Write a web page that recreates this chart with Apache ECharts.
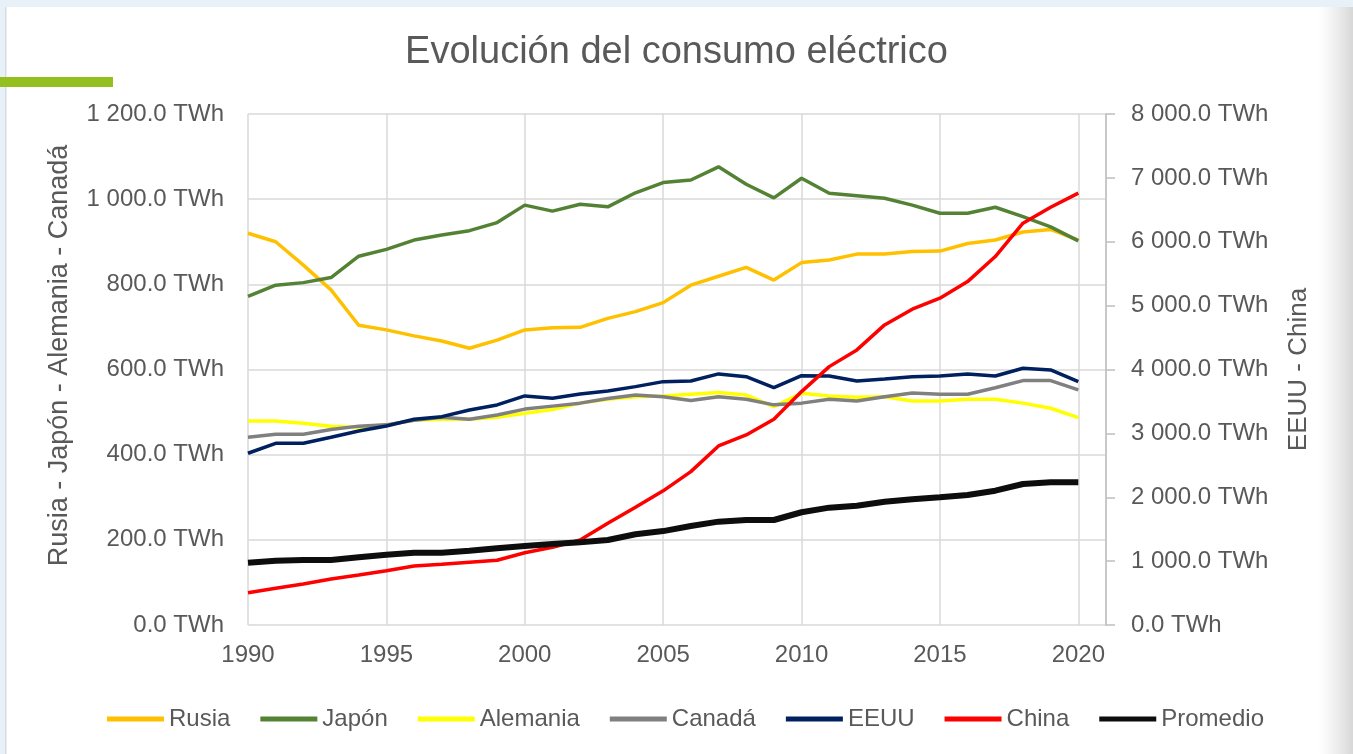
<!DOCTYPE html>
<html>
<head>
<meta charset="utf-8">
<script src="https://cdn.jsdelivr.net/npm/echarts@6/dist/echarts.min.js"></script>
<style>
html,body{margin:0;padding:0;background:#fff;}
#chart{width:1353px;height:754px;}
</style>
</head>
<body>
<div id="chart"></div>
<script>
var years = [1990,1991,1992,1993,1994,1995,1996,1997,1998,1999,2000,2001,2002,2003,2004,2005,2006,2007,2008,2009,2010,2011,2012,2013,2014,2015,2016,2017,2018,2019,2020];
var rusia    = [920,900,845,787,704,693,679,667,650,669,693,698,699,720,736,757,798,819,840,810,851,857,871,871,877,878,896,904,923,929,904];
var japon    = [772,798,804,816,866,882,904,916,926,945,986,972,988,982,1015,1039,1045,1076,1035,1003,1049,1014,1008,1002,986,967,967,981,959,935,902];
var alemania = [479,479,474,467,464,470,481,483,483,488,497,506,521,530,536,538,542,546,540,513,544,538,535,536,526,526,530,530,521,509,487];
var canada   = [441,448,448,459,467,470,481,488,483,493,507,514,521,532,540,536,527,536,530,517,521,530,526,536,545,542,542,557,574,574,552];
var eeuu     = [2689,2845,2845,2940,3038,3116,3221,3262,3367,3445,3586,3550,3617,3664,3732,3810,3821,3931,3888,3716,3904,3899,3821,3852,3888,3899,3931,3899,4020,3993,3810];
var china    = [506,575,642,720,783,850,924,950,982,1013,1132,1216,1331,1592,1843,2100,2401,2803,2975,3221,3654,4045,4307,4698,4944,5116,5376,5768,6290,6541,6761];
var promedio = [976,1007,1018,1018,1060,1101,1132,1132,1164,1201,1237,1268,1295,1331,1420,1470,1550,1618,1644,1644,1765,1837,1868,1931,1968,2000,2036,2103,2208,2235,2235];

var seriesNames = ['Rusia','Japón','Alemania','Canadá','EEUU','China','Promedio'];
var seriesColors = ['#FFC000','#548235','#FFFF00','#808080','#002060','#FF0000','#0D0D0D'];
var titleText = 'Evolución del consumo eléctrico';
var leftAxisName = 'Rusia - Japón - Alemania - Canadá';
var rightAxisName = 'EEUU - China';

function pairs(vals){ return years.map(function(y,i){ return [y, vals[i]]; }); }
function fmtTWh(v){
  var s = v.toFixed(1).split('.');
  s[0] = s[0].replace(/\B(?=(\d{3})+$)/g, ' ');
  return s.join('.') + ' TWh';
}
var FONT = 'Liberation Sans, Arial, sans-serif';
var TXT = '#595959';

function line(name, vals, color, width, axis){
  return {
    name: name, type: 'line', yAxisIndex: axis, data: pairs(vals),
    symbol: 'none', showSymbol: false, smooth: false,
    lineStyle: {color: color, width: width}, itemStyle: {color: color},
    emphasis: {disabled: true}
  };
}

var legendData = seriesNames.map(function(n, i){
  return {
    name: n,
    icon: 'path://M0,0H100V10H0Z',
    itemStyle: {color: seriesColors[i], opacity: 1}
  };
});

var chart = echarts.init(document.getElementById('chart'));
chart.setOption({
  animation: false,
  backgroundColor: '#ffffff',
  textStyle: {fontFamily: FONT},
  title: {
    text: titleText, left: 'center', top: 29,
    textStyle: {color: TXT, fontSize: 38, fontWeight: 'normal', fontFamily: FONT}
  },
  graphic: [
    {type: 'rect', shape: {x: 0, y: 0, width: 1353, height: 7}, style: {fill: '#E8F0F8'}, silent: true},
    {type: 'rect', shape: {x: 0, y: 0, width: 5, height: 754}, style: {fill: '#E8F0F8'}, silent: true},
    {type: 'rect', shape: {x: 5, y: 7, width: 1.5, height: 747}, style: {fill: '#D6DCE4'}, silent: true},
    {type: 'rect', shape: {x: 1318, y: 7, width: 35, height: 747},
      style: {fill: new echarts.graphic.LinearGradient(0,0,1,0,[{offset:0,color:'rgba(230,230,230,0)'},{offset:1,color:'rgba(215,215,215,1)'}])}, silent: true},
    {type: 'rect', shape: {x: 0, y: 77, width: 113, height: 10}, style: {fill: '#93C01F'}, silent: true}
  ],
  legend: {
    data: legendData, left: 102, top: 702, itemWidth: 57, itemHeight: 5, itemGap: 30,
    symbolKeepAspect: false,
    textStyle: {color: TXT, fontSize: 24, fontFamily: FONT}
  },
  grid: {left: 248, right: 247, top: 114, bottom: 129, containLabel: false},
  xAxis: {
    type: 'value', min: 1990, max: 2021, interval: 5,
    axisLine: {show: false}, axisTick: {show: false},
    axisLabel: {color: TXT, fontSize: 24, fontFamily: FONT, margin: 18,
      formatter: function(v){ return v % 5 === 0 ? String(v) : ''; }},
    splitLine: {show: true, lineStyle: {color: '#D9D9D9', width: 1.5}}
  },
  yAxis: [
    {
      type: 'value', min: 0, max: 1200, interval: 200, position: 'left',
      name: leftAxisName, nameLocation: 'middle', nameRotate: 90, nameGap: 175,
      nameTextStyle: {color: TXT, fontSize: 27, fontFamily: FONT, padding: [0, 0, 0, 28]},
      axisLine: {show: false}, axisTick: {show: false},
      axisLabel: {color: TXT, fontSize: 24, fontFamily: FONT, margin: 24, formatter: fmtTWh},
      splitLine: {show: true, lineStyle: {color: '#D9D9D9', width: 1.5}}
    },
    {
      type: 'value', min: 0, max: 8000, interval: 1000, position: 'right',
      name: rightAxisName, nameLocation: 'middle', nameRotate: 90, nameGap: 180,
      nameTextStyle: {color: TXT, fontSize: 26, fontFamily: FONT},
      axisLine: {show: true, lineStyle: {color: '#BFBFBF', width: 1.5}},
      axisTick: {show: true, length: 9, lineStyle: {color: '#BFBFBF', width: 1.5}},
      axisLabel: {color: TXT, fontSize: 24, fontFamily: FONT, margin: 25, formatter: fmtTWh},
      splitLine: {show: false}
    }
  ],
  series: [
    line('Rusia', rusia, seriesColors[0], 3.5, 0),
    line('Japón', japon, seriesColors[1], 3.5, 0),
    line('Alemania', alemania, seriesColors[2], 3.5, 0),
    line('Canadá', canada, seriesColors[3], 3.5, 0),
    line('EEUU', eeuu, seriesColors[4], 3.5, 1),
    line('China', china, seriesColors[5], 3.5, 1),
    line('Promedio', promedio, seriesColors[6], 6, 1)
  ]
});
</script>
</body>
</html>
